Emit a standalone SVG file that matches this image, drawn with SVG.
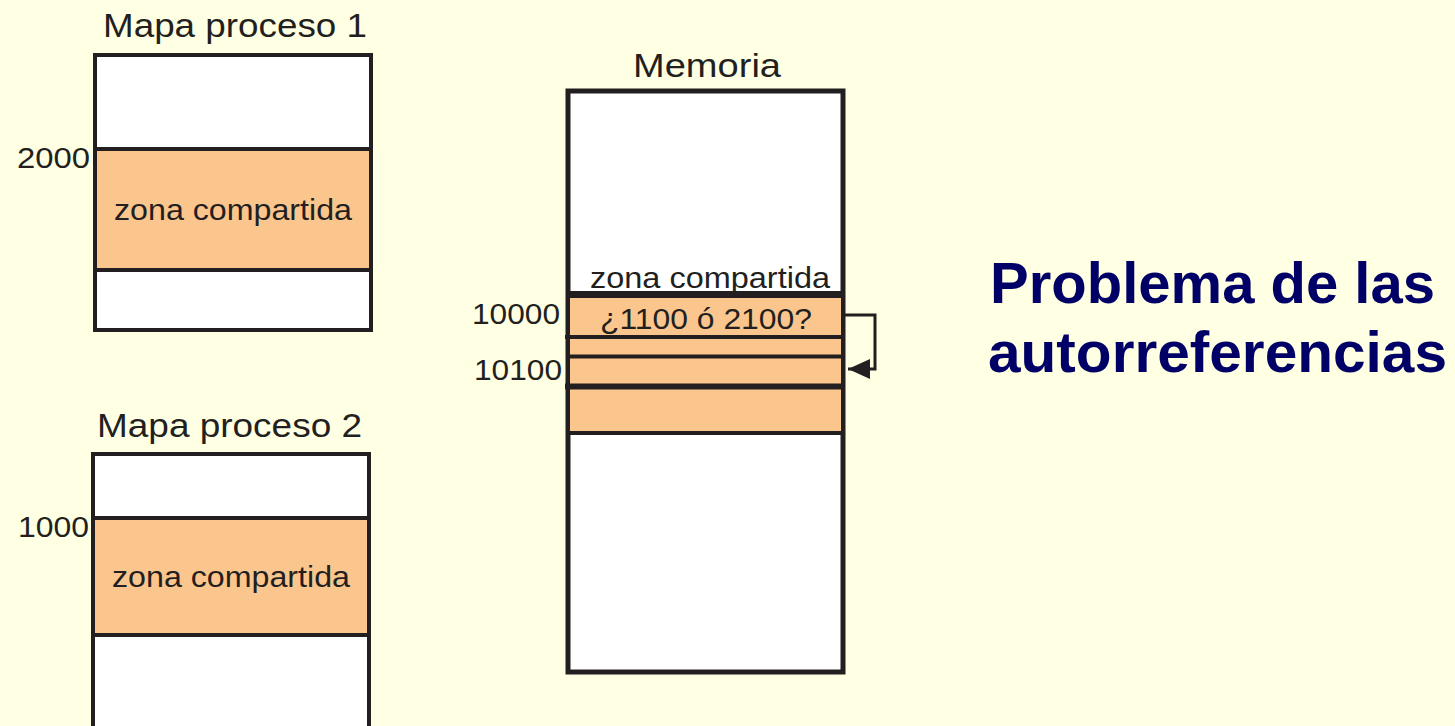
<svg xmlns="http://www.w3.org/2000/svg" width="1455" height="726" viewBox="0 0 1455 726">
  <defs>
    <style>
      .bg { fill: #FFFFE3; }
      .box { fill: #FFFFFF; stroke: #231F20; stroke-width: 4; }
      .zone { fill: #FBC68D; stroke: #231F20; stroke-width: 4; }
      .ln { stroke: #231F20; fill: none; }
      .t { font-family: "Liberation Sans", Arial, sans-serif; fill: #231F20; }
      .title { font-size: 34px; }
      .body { font-size: 29px; }
      .head { font-family: "Liberation Sans", Arial, sans-serif; font-weight: bold; font-size: 58px; fill: #000066; }
    </style>
    <marker id="arr" markerWidth="22" markerHeight="20" refX="22" refY="10" orient="auto" markerUnits="userSpaceOnUse">
      <path d="M22,10 L0,0 L0,20 Z" fill="#231F20"/>
    </marker>
  </defs>
  <rect class="bg" x="0" y="0" width="1455" height="726"/>

  <g id="proceso1">
    <text class="t title" x="103" y="37" textLength="264" lengthAdjust="spacingAndGlyphs">Mapa proceso 1</text>
    <rect class="box" x="95" y="55" width="276" height="275"/>
    <rect class="zone" x="95" y="149" width="276" height="121"/>
    <text class="t body" x="114" y="220" textLength="238" lengthAdjust="spacingAndGlyphs">zona compartida</text>
    <text class="t body" x="17" y="168" textLength="73" lengthAdjust="spacingAndGlyphs">2000</text>
  </g>

  <g id="proceso2">
    <text class="t title" x="97" y="437" textLength="265" lengthAdjust="spacingAndGlyphs">Mapa proceso 2</text>
    <rect class="box" x="93" y="454" width="276" height="290"/>
    <rect class="zone" x="93" y="518" width="276" height="117"/>
    <text class="t body" x="112" y="587" textLength="238" lengthAdjust="spacingAndGlyphs">zona compartida</text>
    <text class="t body" x="18" y="537" textLength="71" lengthAdjust="spacingAndGlyphs">1000</text>
  </g>

  <g id="memoria">
    <text class="t title" x="633" y="77" textLength="148" lengthAdjust="spacingAndGlyphs">Memoria</text>
    <rect class="box" x="568" y="91" width="275" height="581" style="stroke-width:5"/>
    <rect class="zone" x="568" y="296" width="275" height="137"/>
    <line class="ln" x1="566" y1="294.5" x2="845" y2="294.5" stroke-width="7"/>
    <line class="ln" x1="565" y1="337" x2="845" y2="337" stroke-width="4"/>
    <line class="ln" x1="566" y1="356.5" x2="845" y2="356.5" stroke-width="4"/>
    <line class="ln" x1="565" y1="386.5" x2="845" y2="386.5" stroke-width="6"/>
    <line class="ln" x1="566" y1="433" x2="845" y2="433" stroke-width="4"/>
    <text class="t body" x="590" y="288" textLength="240" lengthAdjust="spacingAndGlyphs">zona compartida</text>
    <text class="t body" x="600" y="329" textLength="212" lengthAdjust="spacingAndGlyphs">¿1100 ó 2100?</text>
    <text class="t body" x="472" y="324" textLength="88" lengthAdjust="spacingAndGlyphs">10000</text>
    <text class="t body" x="474" y="380" textLength="88" lengthAdjust="spacingAndGlyphs">10100</text>
  </g>

  <g id="connectors">
    <path class="ln" d="M845,315 H875 V369 H848" stroke-width="3" marker-end="url(#arr)"/>
  </g>

  <g id="titulo">
    <text class="head" x="990" y="303" textLength="445" lengthAdjust="spacingAndGlyphs">Problema de las</text>
    <text class="head" x="988" y="372" textLength="459" lengthAdjust="spacingAndGlyphs">autorreferencias</text>
  </g>
</svg>
